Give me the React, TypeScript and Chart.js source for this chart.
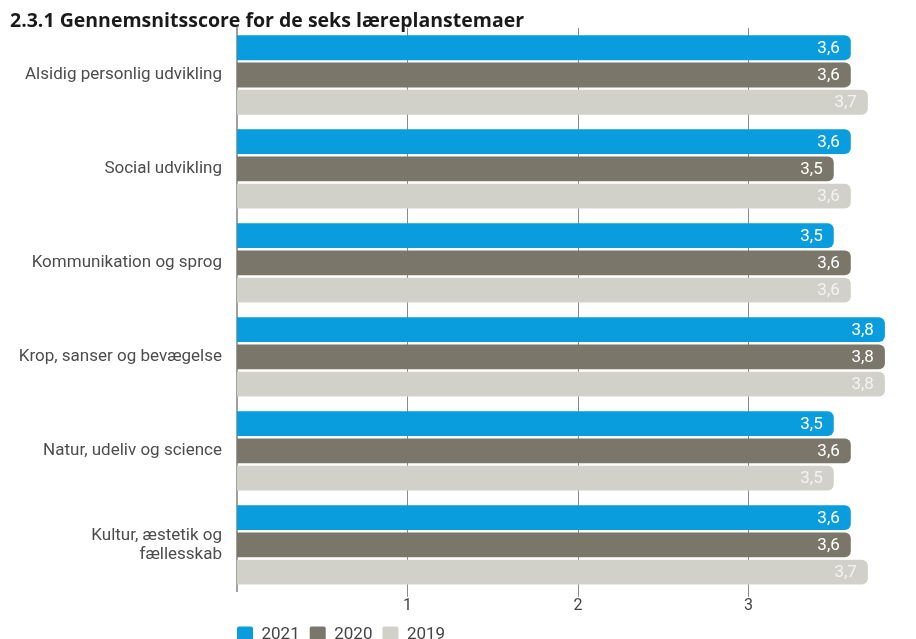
import React, { useEffect, useRef } from "react";
import { Chart, registerables } from "chart.js";

Chart.register(...registerables);

const titleText = "2.3.1 Gennemsnitsscore for de seks læreplanstemaer";
const categories: (string | string[])[] = [
  "Alsidig personlig udvikling",
  "Social udvikling",
  "Kommunikation og sprog",
  "Krop, sanser og bevægelse",
  "Natur, udeliv og science",
  ["Kultur, æstetik og", "fællesskab"],
];
const seriesNames = ["2021", "2020", "2019"];
const values2021 = [3.6, 3.6, 3.5, 3.8, 3.5, 3.6];
const values2020 = [3.6, 3.5, 3.6, 3.8, 3.6, 3.6];
const values2019 = [3.7, 3.6, 3.6, 3.8, 3.5, 3.7];
const seriesColors = ["#0A9DDE", "#7A776A", "#D1D1CA"];
const labelColors = ["#FFFFFF", "#FFFFFF", "#F4F4EF"];
const xTicks = [1, 2, 3, 4];

const valueLabelPlugin = {
  id: "valueLabels",
  afterDatasetsDraw(chart: any) {
    const ctx = chart.ctx;
    ctx.save();
    ctx.font = "17px Roboto";
    ctx.textAlign = "right";
    ctx.textBaseline = "middle";
    chart.data.datasets.forEach((ds: any, di: number) => {
      const meta = chart.getDatasetMeta(di);
      meta.data.forEach((el: any, i: number) => {
        const v = ds.data[i] as number;
        ctx.fillStyle = labelColors[di];
        ctx.fillText(v.toFixed(1).replace(".", ","), el.x - 11, el.y + 1);
      });
    });
    ctx.restore();
  },
};

const legendShiftPlugin = {
  id: "legendShift",
  afterLayout(chart: any) {
    if (chart.legend) chart.legend.left -= 10;
  },
};

export default function App() {
  const ref = useRef<HTMLCanvasElement | null>(null);
  useEffect(() => {
    if (!ref.current) return;
    const allSeries = [values2021, values2020, values2019];
    const chart = new Chart(ref.current, {
      type: "bar",
      data: {
        labels: categories,
        datasets: allSeries.map((vals, i) => ({
          label: seriesNames[i],
          data: vals,
          backgroundColor: seriesColors[i],
          borderWidth: 0,
          borderRadius: 6,
          borderSkipped: "start",
          categoryPercentage: 0.87,
          barPercentage: 0.91,
        })),
      },
      options: {
        indexAxis: "y",
        animation: false,
        responsive: false,
        maintainAspectRatio: false,
        layout: { padding: { left: 2, top: 0, right: 0, bottom: 0 } },
        plugins: {
          title: {
            display: true,
            text: titleText,
            align: "start",
            color: "#1a1a1a",
            font: { family: "'Open Sans'", size: 19.5, weight: "bold", lineHeight: 1 },
            padding: { top: 4, bottom: -3.5 },
          },
          legend: {
            display: true,
            position: "bottom",
            align: "start",
            fullSize: false,
            labels: {
              color: "#444",
              font: { family: "Roboto", size: 17 },
              boxWidth: 16,
              boxHeight: 16,
              padding: 10,
              useBorderRadius: true,
              borderRadius: 2,
            },
          },
          tooltip: { enabled: false },
        },
        scales: {
          x: {
            min: 0,
            max: 4,
            afterBuildTicks(scale: any) {
              scale.ticks = xTicks.map((v) => ({ value: v }));
            },
            afterFit(scale: any) {
              scale.paddingLeft = 0;
              scale.paddingRight = 0;
            },
            ticks: {
              color: "#444",
              font: { family: "Roboto", size: 16 },
              padding: 0,
            },
            grid: {
              color: "#8a8a8a",
              lineWidth: 1,
              drawTicks: true,
              tickLength: 5,
            },
            border: { display: false },
          },
          y: {
            afterFit(scale: any) {
              scale.width = 227;
              scale.paddingTop = 0;
              scale.paddingBottom = 0;
            },
            ticks: {
              color: "#4d4d4d",
              font: { family: "Roboto", size: 17, lineHeight: 1.12 },
              padding: 15,
            },
            grid: { display: false, drawTicks: false },
            border: { display: true, color: "#a0a0a0", width: 2 },
          },
        },
      },
      plugins: [valueLabelPlugin, legendShiftPlugin],
    } as any);
    return () => chart.destroy();
  }, []);
  return (
    <div style={{ width: 908, height: 631, overflow: "hidden", position: "relative" }}>
      <canvas ref={ref} width={911} height={645} style={{ display: "block", width: 911, height: 645 }} />
    </div>
  );
}
